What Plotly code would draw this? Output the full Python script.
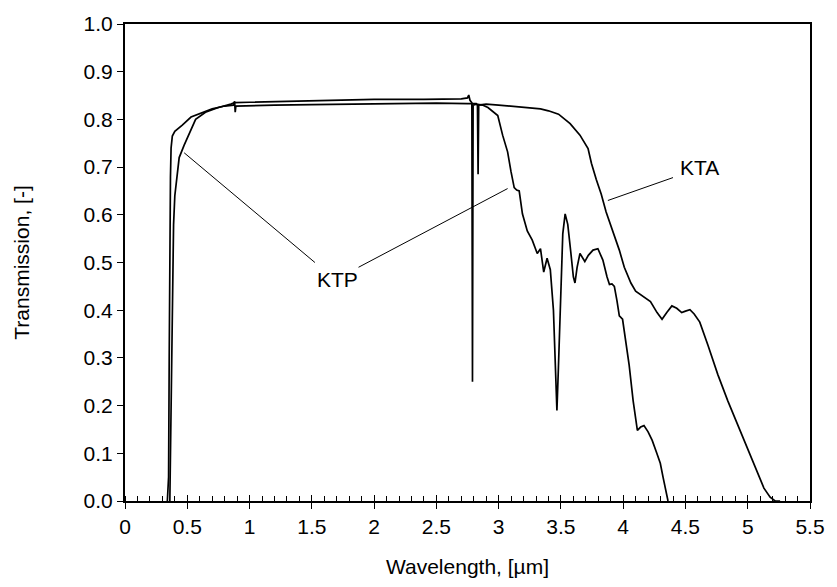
import plotly.graph_objects as go

# KTA transmission spectrum
kta_wl = [0.340, 0.350, 0.355, 0.360, 0.365, 0.370, 0.380, 0.400, 0.420, 0.460, 0.530, 0.610,
          0.700, 0.800, 0.870, 0.880, 0.885, 0.890, 1.000, 1.200, 1.500, 2.000, 2.500, 2.750,
          2.820, 2.830, 2.835, 2.840, 2.900, 3.000, 3.100, 3.200, 3.336, 3.400, 3.481, 3.574,
          3.653, 3.718, 3.745, 3.784, 3.824, 3.863, 3.916, 3.969, 4.009, 4.062, 4.100, 4.153,
          4.219, 4.272, 4.312, 4.350, 4.391, 4.430, 4.470, 4.500, 4.536, 4.570, 4.615, 4.680,
          4.760, 4.840, 4.918, 5.000, 5.080, 5.130, 5.180, 5.220, 5.260]
kta_t = [0.000, 0.050, 0.300, 0.550, 0.680, 0.740, 0.765, 0.775, 0.780, 0.788, 0.805, 0.813,
         0.822, 0.828, 0.830, 0.838, 0.815, 0.828, 0.829, 0.830, 0.831, 0.833, 0.834, 0.833,
         0.833, 0.830, 0.685, 0.830, 0.832, 0.830, 0.828, 0.826, 0.822, 0.818, 0.811, 0.791,
         0.767, 0.739, 0.708, 0.674, 0.643, 0.606, 0.565, 0.526, 0.490, 0.457, 0.440, 0.430,
         0.418, 0.395, 0.381, 0.395, 0.409, 0.404, 0.395, 0.398, 0.401, 0.392, 0.375, 0.327,
         0.265, 0.210, 0.161, 0.110, 0.060, 0.027, 0.008, 0.000, 0.000]

# KTP transmission spectrum
ktp_wl = [0.360, 0.370, 0.380, 0.390, 0.400, 0.420, 0.435, 0.475, 0.530, 0.567, 0.646, 0.750,
          0.850, 0.880, 1.000, 1.300, 1.600, 2.000, 2.400, 2.700, 2.750, 2.760, 2.770, 2.785,
          2.790, 2.795, 2.820, 2.870, 2.914, 2.950, 2.993, 3.032, 3.072, 3.099, 3.125, 3.145,
          3.165, 3.191, 3.230, 3.270, 3.310, 3.336, 3.362, 3.389, 3.415, 3.440, 3.455, 3.468,
          3.480, 3.500, 3.515, 3.534, 3.555, 3.580, 3.600, 3.613, 3.630, 3.653, 3.672, 3.692,
          3.720, 3.758, 3.797, 3.837, 3.870, 3.890, 3.910, 3.929, 3.950, 3.969, 3.995, 4.020,
          4.048, 4.080, 4.114, 4.140, 4.167, 4.200, 4.233, 4.270, 4.298, 4.320, 4.338, 4.360]
ktp_t = [0.000, 0.200, 0.450, 0.580, 0.640, 0.690, 0.720, 0.746, 0.780, 0.800, 0.815, 0.825,
         0.832, 0.835, 0.836, 0.838, 0.840, 0.842, 0.842, 0.843, 0.845, 0.851, 0.840, 0.835,
         0.250, 0.830, 0.832, 0.830, 0.825, 0.818, 0.808, 0.767, 0.732, 0.691, 0.657, 0.652,
         0.650, 0.602, 0.566, 0.547, 0.519, 0.529, 0.480, 0.509, 0.485, 0.400, 0.270, 0.190,
         0.280, 0.450, 0.560, 0.602, 0.580, 0.520, 0.470, 0.457, 0.490, 0.519, 0.510, 0.502,
         0.515, 0.526, 0.529, 0.505, 0.470, 0.454, 0.455, 0.450, 0.420, 0.388, 0.381, 0.340,
         0.285, 0.210, 0.148, 0.155, 0.158, 0.145, 0.127, 0.100, 0.079, 0.050, 0.024, 0.000]

x_range = [0, 5.5]
y_range = [0, 1.0]

# labels and their leader lines (data coordinates)
labels = ["KTP", "KTA"]
label_x = [1.71, 4.61]
label_y = [0.465, 0.700]
leader_x0 = [0.475, 1.875, 4.40]
leader_y0 = [0.730, 0.490, 0.678]
leader_x1 = [1.525, 3.072, 3.877]
leader_y1 = [0.500, 0.655, 0.630]

FONT = "Liberation Sans, Arial, sans-serif"
FS = 21

fig = go.Figure()
fig.add_trace(go.Scatter(x=kta_wl, y=kta_t, mode="lines", name="KTA",
                         line=dict(color="black", width=1.7), hoverinfo="skip"))
fig.add_trace(go.Scatter(x=ktp_wl, y=ktp_t, mode="lines", name="KTP",
                         line=dict(color="black", width=1.7), hoverinfo="skip"))
# invisible helper trace for the second x axis (inside major ticks)
fig.add_trace(go.Scatter(x=kta_wl, y=kta_t, mode="lines", xaxis="x2",
                         line=dict(color="rgba(0,0,0,0)", width=0), hoverinfo="skip",
                         showlegend=False))

for i in range(len(leader_x0)):
    fig.add_shape(type="line", xref="x", yref="y",
                  x0=leader_x0[i], y0=leader_y0[i], x1=leader_x1[i], y1=leader_y1[i],
                  line=dict(color="black", width=1))

for i in range(len(labels)):
    fig.add_annotation(x=label_x[i], y=label_y[i], text=labels[i], showarrow=False,
                       xref="x", yref="y", font=dict(size=FS, color="black", family=FONT))

fig.update_layout(
    width=837, height=587,
    margin=dict(l=125, r=17, t=17, b=86),
    paper_bgcolor="white", plot_bgcolor="white",
    showlegend=False,
    font=dict(family=FONT, size=FS, color="black"),
    xaxis=dict(range=x_range, dtick=0.5, tick0=0, showgrid=False, zeroline=False,
               showline=True, linecolor="black", linewidth=2, mirror=True,
               ticks="outside", ticklen=6, tickwidth=1, tickcolor="black",
               minor=dict(ticks="inside", dtick=0.1, ticklen=5, tickwidth=1, tickcolor="black"),
               title=dict(text="Wavelength, [µm]", standoff=22, font=dict(size=FS)),
               tickfont=dict(size=FS)),
    xaxis2=dict(range=x_range, overlaying="x", anchor="y", side="bottom", dtick=0.5, tick0=0,
                showgrid=False, zeroline=False, showline=False, showticklabels=False,
                ticks="inside", ticklen=6, tickwidth=1, tickcolor="black"),
    yaxis=dict(range=y_range, dtick=0.1, tick0=0, tickformat=".1f", showgrid=False,
               zeroline=False, showline=True, linecolor="black", linewidth=2, mirror=True,
               ticks="outside", ticklen=6, tickwidth=1, tickcolor="black",
               title=dict(text="Transmission, [-]", standoff=48, font=dict(size=FS)),
               tickfont=dict(size=FS)),
)

fig.write_html("out.html")
